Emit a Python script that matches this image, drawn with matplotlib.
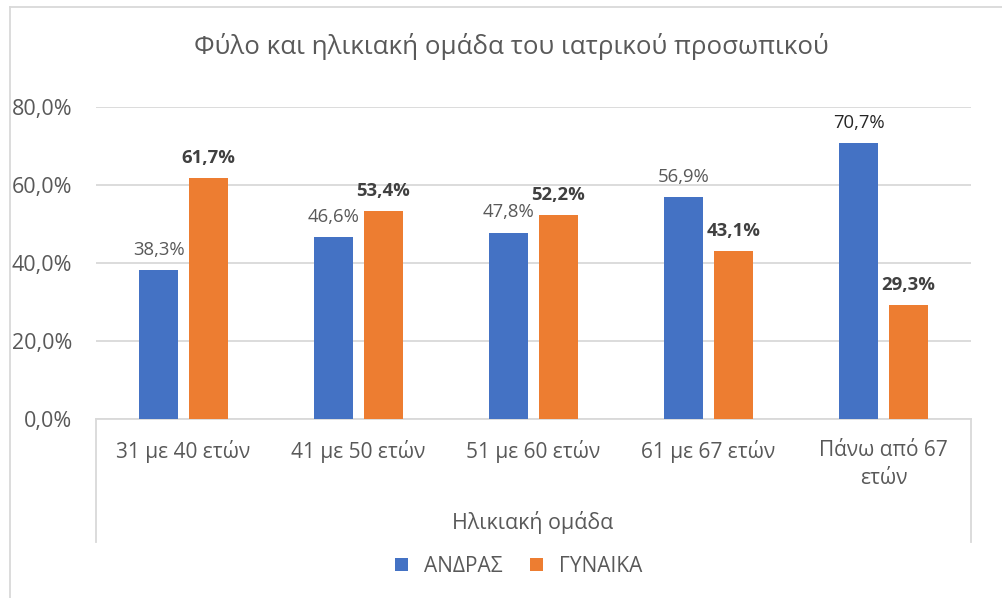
import numpy as np
import matplotlib
matplotlib.use("Agg")
import matplotlib.pyplot as plt
from matplotlib.lines import Line2D

plt.rcParams['font.family'] = ['Open Sans', 'DejaVu Sans']

categories = ['31 με 40 ετών', '41 με 50 ετών', '51 με 60 ετών', '61 με 67 ετών', 'Πάνω από 67\nετών']
men = [38.3, 46.6, 47.8, 56.9, 70.7]
women = [61.7, 53.4, 52.2, 43.1, 29.3]
men_bold = [False, False, False, False, False]
women_bold = [True, True, True, True, True]
series_names = ['ΑΝΔΡΑΣ', 'ΓΥΝΑΙΚΑ']
yticks = [0, 20, 40, 60, 80]

blue = '#4472C4'
orange = '#ED7D31'
grey_txt = '#595959'
grid_col = '#D9D9D9'

fig = plt.figure(figsize=(10.02, 5.98), dpi=100)
ax = fig.add_axes([96/1002, 1-419/598, (971-96)/1002, (419-107)/598])

x = np.arange(len(categories))
w = 0.223
off = 0.142
b1 = ax.bar(x - off, men, w, color=blue, label=series_names[0], zorder=3)
b2 = ax.bar(x + off, women, w, color=orange, label=series_names[1], zorder=3)

for rects, vals, bolds, last_dark in [(b1, men, men_bold, True), (b2, women, women_bold, False)]:
    for i, (r, v, bd) in enumerate(zip(rects, vals, bolds)):
        col = grey_txt
        if last_dark and i == len(vals) - 1:
            col = '#262626'
        if bd:
            col = '#404040'
        ax.annotate(f'{v:.1f}%'.replace('.', ','), (r.get_x() + r.get_width()/2, v),
                    xytext=(0, 8), textcoords='offset points', ha='center', va='bottom',
                    fontsize=13.3, color=col, fontweight='bold' if bd else 'normal')

ax.set_xlim(-0.5, len(categories) - 0.5)
ax.set_ylim(0, 80)
ax.set_yticks(yticks)
ax.set_yticklabels([f'{t:.1f}%'.replace('.', ',') for t in yticks])
ax.set_xticks(x)
ax.set_xticklabels(categories, linespacing=1.45)
ax.tick_params(axis='y', length=0, labelsize=15.5, labelcolor=grey_txt, pad=17)
ax.tick_params(axis='x', length=0, labelsize=15, labelcolor=grey_txt, pad=15)
ax.grid(axis='y', color=grid_col, linewidth=1.3, zorder=0)
for s in ['top', 'right', 'left']:
    ax.spines[s].set_visible(False)
ax.spines['bottom'].set_color(grid_col)
ax.spines['bottom'].set_linewidth(1.3)

# category box lines
hb = (542 - 419) / (419 - 107)
for xa in [0, 1]:
    ax.add_line(Line2D([xa, xa], [0, -hb], transform=ax.transAxes, color=grid_col,
                       linewidth=1.3, clip_on=False))

fig.text(533/1002, 1 - 523/598, 'Ηλικιακή ομάδα', ha='center', va='center',
         fontsize=15.4, color=grey_txt)
fig.text(511/1002, 1 - 47/598, 'Φύλο και ηλικιακή ομάδα του ιατρικού προσωπικού',
         ha='center', va='center', fontsize=18.6, color=grey_txt)

leg = fig.legend(loc='center', bbox_to_anchor=(519/1002, 1 - 566/598), ncol=2,
                 frameon=False, fontsize=15, handlelength=0.6, handleheight=0.6,
                 handletextpad=0.8, columnspacing=1.3)
for t in leg.get_texts():
    t.set_color(grey_txt)

# outer chart border
fig.add_artist(Line2D([10/1002, 10/1002], [0, 1 - 7/598], color=grid_col, linewidth=1.3))
fig.add_artist(Line2D([10/1002, 1], [1 - 7/598, 1 - 7/598], color=grid_col, linewidth=1.3))

fig.savefig('out.png', dpi=100)
